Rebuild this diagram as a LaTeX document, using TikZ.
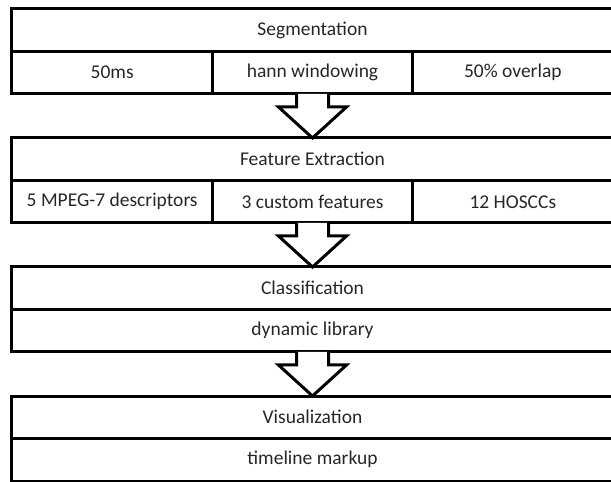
\documentclass[tikz,border=0pt]{standalone}
\usepackage{fontspec}
\setmainfont{Carlito}
\usetikzlibrary{positioning,calc}

\begin{document}
\begin{tikzpicture}[
  x=1bp, y=1bp,
  node distance=44bp and 0pt,
  stage/.style={draw, line width=3bp, minimum width=601bp, minimum height=42.5bp,
    inner sep=0pt, outer sep=0pt, text=black!85, font=\fontsize{19.5bp}{23bp}\selectfont},
  cell/.style={stage, minimum width=200.333bp},
  blockarr/.style={draw, line width=3bp, fill=white, line join=miter}
]
  \useasboundingbox (0,0) rectangle (611,482);
  \clip (0,0) rectangle (611,482);

  % segmentation
  \node[stage] (seg) at (312.5,451.75) {Segmentation};
  \node[cell, below right=0pt and 0pt of seg.south west] (segA) {50ms};
  \node[cell, right=0pt of segA] (segB) {hann windowing};
  \node[cell, right=0pt of segB] (segC) {50\% overlap};

  % feature extraction
  \node[stage, below=of segB] (feat) {Feature Extraction};
  \node[cell, below right=0pt and 0pt of feat.south west] (featA) {5 MPEG-7 descriptors};
  \node[cell, right=0pt of featA] (featB) {3 custom features};
  \node[cell, right=0pt of featB] (featC) {12 HOSCCs};

  % classification
  \node[stage, below=of featB] (cls) {Classification};
  \node[stage, below=0pt of cls] (clsA) {dynamic library};

  % visualization
  \node[stage, below=of clsA] (vis) {Visualization};
  \node[stage, below=0pt of vis] (visA) {timeline markup};

  \foreach \from/\to in {segB/feat, featB/cls, clsA/vis}
    \draw[blockarr] ($(\from.south)+(-16,0)$) -- ++(0,-13) -- ++(-18,0)
      -- (\to.north) -- ($(\from.south)+(34,-13)$) -- ++(-18,0) -- ++(0,13);
\end{tikzpicture}
\end{document}
